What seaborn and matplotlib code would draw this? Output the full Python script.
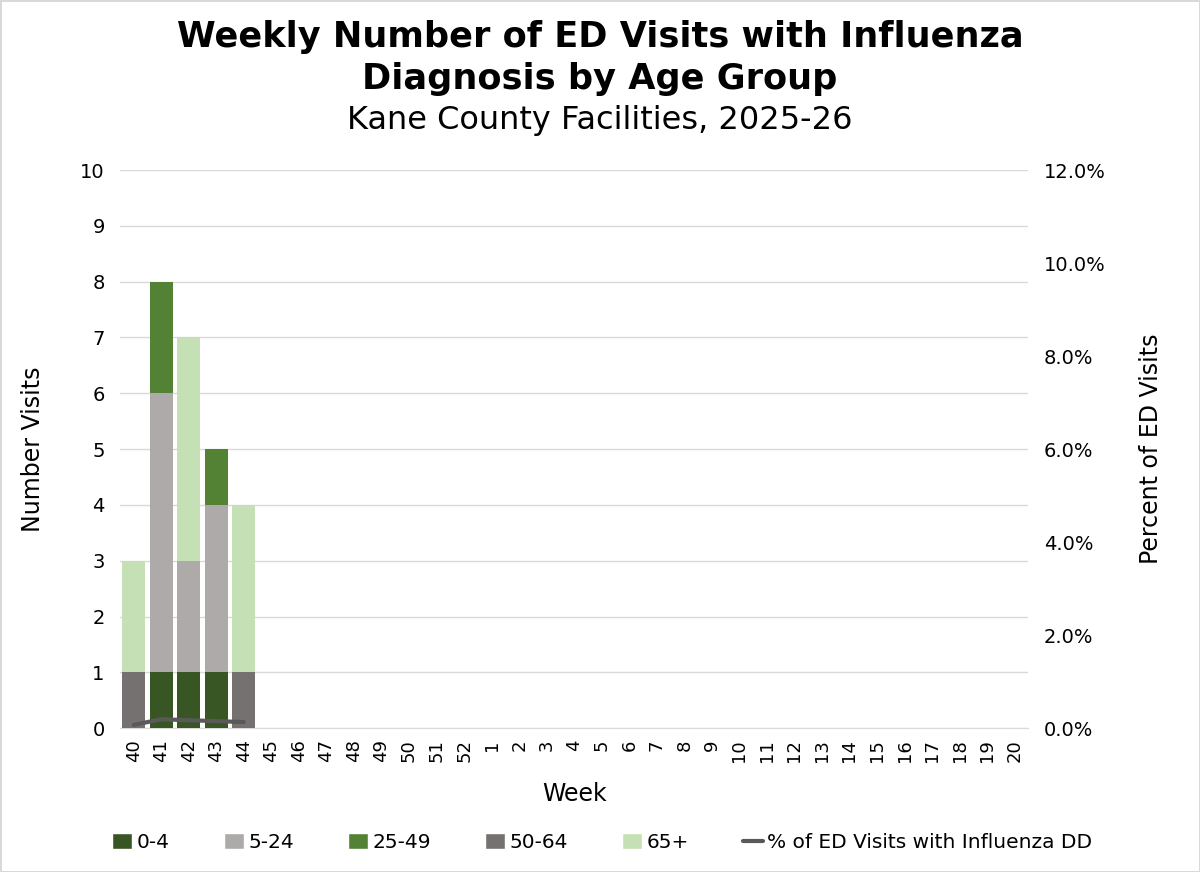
import pandas as pd
import matplotlib.pyplot as plt
import seaborn as sns
from matplotlib.patches import Patch
from matplotlib.lines import Line2D
from matplotlib.ticker import PercentFormatter

# Week order on the x axis (season 2025-26)
weeks = ['40', '41', '42', '43', '44', '45', '46', '47', '48', '49', '50', '51', '52',
         '1', '2', '3', '4', '5', '6', '7', '8', '9', '10', '11', '12', '13', '14',
         '15', '16', '17', '18', '19', '20']

# Weeks with reported data
data_weeks = ['40', '41', '42', '43', '44']
age_0_4 = [0, 1, 1, 1, 0]
age_5_24 = [0, 5, 2, 3, 0]
age_25_49 = [0, 2, 0, 1, 0]
age_50_64 = [1, 0, 0, 0, 1]
age_65_plus = [2, 0, 4, 0, 3]

# percent of ED visits with influenza DD (fraction)
pct_flu = [0.0007, 0.0019, 0.0017, 0.0015, 0.0013]

groups = ['0-4', '5-24', '25-49', '50-64', '65+']
colors = ['#375623', '#aeaaaa', '#548235', '#767171', '#c5e0b4']
line_color = '#595959'

counts_df = pd.DataFrame({'Week': data_weeks, '0-4': age_0_4, '5-24': age_5_24,
                          '25-49': age_25_49, '50-64': age_50_64, '65+': age_65_plus})

sns.set_style('white')
plt.rcParams['font.family'] = ['DejaVu Sans']
plt.rcParams['text.color'] = 'black'
plt.rcParams['axes.labelcolor'] = 'black'
plt.rcParams['xtick.color'] = 'black'
plt.rcParams['ytick.color'] = 'black'

fig = plt.figure(figsize=(12, 8.72), dpi=100)
fig.patch.set_edgecolor('#d9d9d9')
fig.patch.set_linewidth(2)
ax = fig.add_axes([0.1, 0.165, 0.757, 0.64])

# stacked bars: draw cumulative totals from the top layer down
cum = counts_df[groups].cumsum(axis=1)
for g, c in reversed(list(zip(groups, colors))):
    sns.barplot(x=counts_df['Week'], y=cum[g], order=weeks, color=c,
                width=0.84, saturation=1, linewidth=0, ax=ax, zorder=3)

ax.set_ylim(0, 10)
ax.set_yticks(range(0, 11))
ax.set_xlim(-0.5, len(weeks) - 0.5)
ax.grid(axis='y', color='#d9d9d9', linewidth=1, zorder=0)
ax.set_axisbelow(True)
for s in ['top', 'left', 'right']:
    ax.spines[s].set_visible(False)
ax.spines['bottom'].set_color('#d9d9d9')
ax.tick_params(axis='x', labelrotation=90, labelsize=13, length=0, pad=8)
ax.tick_params(axis='y', labelsize=14, length=0, pad=11)
ax.set_xlabel('Week', fontsize=17, labelpad=14)
ax.set_ylabel('Number Visits', fontsize=17, labelpad=25)

# percent line on a secondary axis
ax2 = ax.twinx()
line_x = [weeks.index(w) for w in data_weeks]
sns.lineplot(x=line_x, y=pct_flu, ax=ax2, color=line_color, linewidth=3)
ax2.set_xlim(-0.5, len(weeks) - 0.5)
ax2.set_ylim(0, 0.12)
ax2.set_yticks([0, 0.02, 0.04, 0.06, 0.08, 0.10, 0.12])
ax2.yaxis.set_major_formatter(PercentFormatter(1.0, decimals=1))
ax2.tick_params(axis='y', labelsize=14, length=0, pad=11)
for s in ['top', 'left', 'right', 'bottom']:
    ax2.spines[s].set_visible(False)
ax2.set_ylabel('Percent of ED Visits', fontsize=17, labelpad=24)

fig.text(0.5, 0.957, 'Weekly Number of ED Visits with Influenza', ha='center',
         va='center', fontsize=25.3, fontweight='heavy')
fig.text(0.5, 0.909, 'Diagnosis by Age Group', ha='center', va='center',
         fontsize=25.3, fontweight='heavy')
fig.text(0.5, 0.862, 'Kane County Facilities, 2025-26', ha='center', va='center',
         fontsize=23)

handles = [Patch(facecolor=c, label=g) for g, c in zip(groups, colors)]
handles.append(Line2D([0], [0], color=line_color, linewidth=3,
                      label='% of ED Visits with Influenza DD'))
fig.legend(handles=handles, loc='center', bbox_to_anchor=(0.502, 0.034), ncol=6,
           frameon=False, fontsize=14.5, handlelength=1.0, handleheight=0.8,
           handletextpad=0.2, columnspacing=2.7)

fig.savefig('out.png', dpi=100, edgecolor=fig.get_edgecolor())
